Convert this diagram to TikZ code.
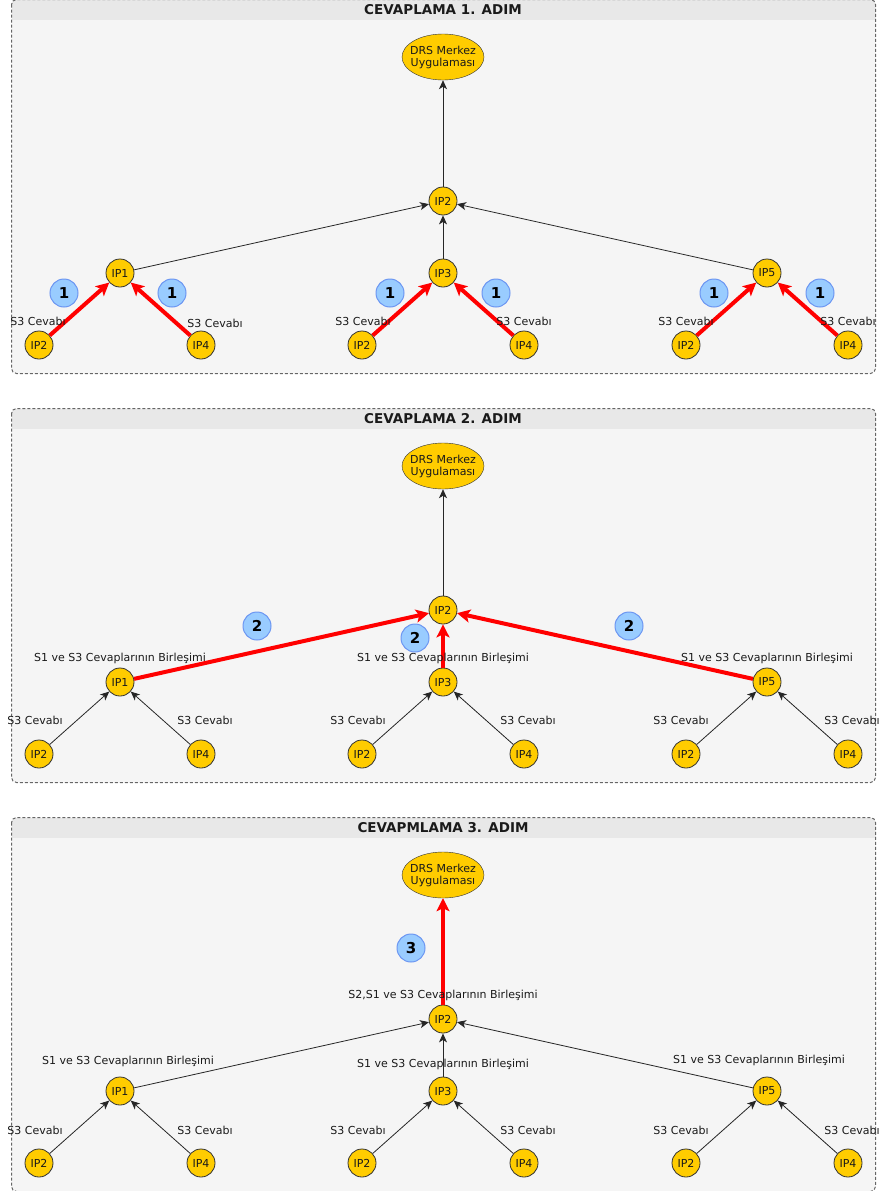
\documentclass[tikz,border=0pt]{standalone}
\usepackage{fontspec}
\setmainfont{DejaVu Sans}
\usetikzlibrary{arrows.meta,shapes.geometric}
\definecolor{nodefill}{HTML}{FFCC00}
\definecolor{nodeline}{HTML}{333333}
\definecolor{badgefill}{HTML}{99CCFF}
\definecolor{badgeline}{HTML}{6C96F2}
\definecolor{panelfill}{HTML}{F5F5F5}
\definecolor{barfill}{HTML}{E8E8E8}
\definecolor{panelline}{HTML}{666666}
\definecolor{txt}{HTML}{1A1A1A}
\begin{document}
\begin{tikzpicture}[x=1pt,y=-1pt,
  ip/.style={circle,draw=nodeline,fill=nodefill,minimum size=28pt,inner sep=0pt,line width=0.8pt,text=txt,font=\fontsize{11}{13}\selectfont},
  drs/.style={ellipse,draw=nodeline,fill=nodefill,minimum width=82pt,minimum height=46pt,inner xsep=-5pt,inner ysep=0pt,align=center,text=txt,font=\fontsize{11}{12}\selectfont},
  badge/.style={circle,draw=badgeline,fill=badgefill,minimum size=28pt,inner sep=0pt,line width=1pt,font=\fontsize{15}{15}\selectfont\bfseries},
  lbl/.style={font=\fontsize{11}{13}\selectfont,inner sep=0pt,text=txt},
  title/.style={font=\fontsize{13.5}{14}\selectfont\bfseries,inner sep=0pt,text=txt},
  blkarr/.style={draw=black!85,line width=0.8pt,-{Stealth[length=9pt,width=8pt,inset=2.5pt]}},
  redarr/.style={draw=red,line width=4pt,-{Stealth[length=13pt,width=13pt,inset=3pt]}},
]
\useasboundingbox (0,0) rectangle (878,1191);

% three panels sharing the same tree; the highlighted level changes per step
\foreach \p/\off/\t/\ls/\ms/\ts in {
    a/0/CEVAPLAMA 1. ADIM/redarr/blkarr/blkarr,
    b/409/CEVAPLAMA 2. ADIM/blkarr/redarr/blkarr,
    c/818/CEVAPMLAMA 3. ADIM/blkarr/blkarr/redarr}{
  \begin{scope}[shift={(0,\off)}]
    \fill[panelfill,rounded corners=5pt] (11.5,-0.5) rectangle (875.5,373.5);
    \begin{scope}
      \clip[rounded corners=5pt] (11.5,-0.5) rectangle (875.5,373.5);
      \fill[barfill] (11.5,-0.5) rectangle (875.5,19.5);
    \end{scope}
    \draw[panelline,dash pattern=on 3pt off 2pt,line width=1pt,rounded corners=5pt]
      (11.5,-0.5) rectangle (875.5,373.5);
    \node[title] (\p-title) at (443,10) {\t};

    \node[drs] (\p-drs) at (443,57) {DRS Merkez\\Uygulaması};
    \node[ip] (\p-top) at (443,201) {IP2};
    \foreach \g/\x/\n in {ip1/120/IP1, ip3/443/IP3, ip5/767/IP5}{
      \node[ip] (\p-\g) at (\x,273) {\n};
      \node[ip] (\p-\g-l) at ({\x-81},345) {IP2};
      \node[ip] (\p-\g-r) at ({\x+81},345) {IP4};
      \draw[\ls] (\p-\g-l) -- (\p-\g);
      \draw[\ls] (\p-\g-r) -- (\p-\g);
      \draw[\ms] (\p-\g) -- (\p-top);
    }
    \draw[\ts] (\p-top) -- (\p-drs);
  \end{scope}
}

% step 1: leaf answers
\begin{scope}
  \foreach \i/\x/\y in {1/38/321, 2/215/323, 3/363/321, 4/524/321, 5/686/321, 6/848/321}
    \node[lbl] (a-s3-\i) at (\x,\y) {S3 Cevabı};
  \foreach \i/\x in {1/64, 2/172, 3/390, 4/496, 5/714, 6/820}
    \node[badge] (a-badge-\i) at (\x,293) {1};
\end{scope}

% step 2: merged answers of the middle level
\begin{scope}[shift={(0,409)}]
  \foreach \i/\x in {1/35, 2/205, 3/358, 4/528, 5/681, 6/852}
    \node[lbl] (b-s3-\i) at (\x,311) {S3 Cevabı};
  \foreach \i/\x in {1/120, 2/443, 3/767}
    \node[lbl] (b-s13-\i) at (\x,249) {S1 ve S3 Cevaplarının Birleşimi};
  \node[badge] (b-badge-1) at (257,217) {2};
  \node[badge] (b-badge-2) at (415,229) {2};
  \node[badge] (b-badge-3) at (629,217) {2};
\end{scope}

% step 3: final answer to the centre
\begin{scope}[shift={(0,818)}]
  \foreach \i/\x in {1/35, 2/205, 3/358, 4/528, 5/681, 6/852}
    \node[lbl] (c-s3-\i) at (\x,312) {S3 Cevabı};
  \foreach \i/\x/\y in {1/128/243, 2/443/246, 3/759/242}
    \node[lbl] (c-s13-\i) at (\x,\y) {S1 ve S3 Cevaplarının Birleşimi};
  \node[lbl] (c-s213) at (443,177) {S2,S1 ve S3 Cevaplarının Birleşimi};
  \node[badge] (c-badge) at (411,130) {3};
\end{scope}
\end{tikzpicture}
\end{document}
